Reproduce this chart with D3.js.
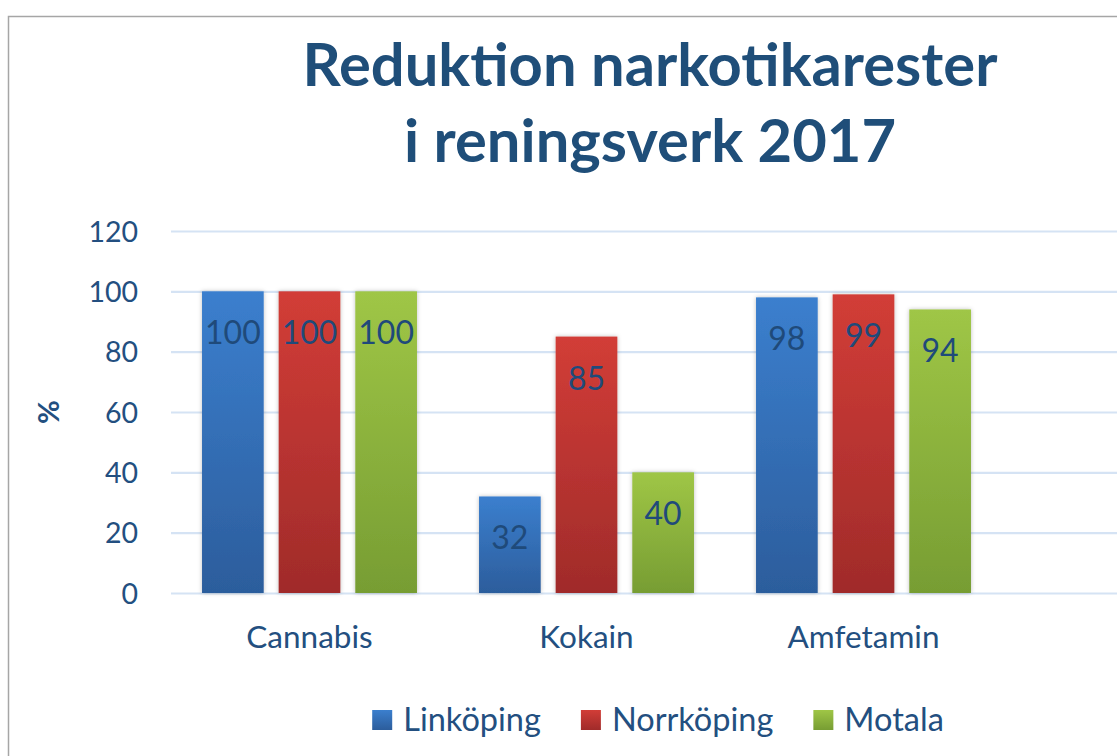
<!DOCTYPE html>
<html>
<head>
<meta charset="utf-8">
<script src="https://cdn.jsdelivr.net/npm/d3@7"></script>
<style>
  html, body { margin: 0; padding: 0; background: #fff; }
  svg { display: block; }
  text { font-family: Lato, "Open Sans", sans-serif; }
</style>
</head>
<body>
<svg id="chart" width="1117" height="756"></svg>
<script>
const titleLines = ["Reduktion narkotikarester", "i reningsverk 2017"];
const categories = ["Cannabis", "Kokain", "Amfetamin"];
const seriesNames = ["Linköping", "Norrköping", "Motala"];
const linkoping = [100, 32, 98];
const norrkoping = [100, 85, 99];
const motala = [100, 40, 94];
const yTicks = [0, 20, 40, 60, 80, 100, 120];
const yLabel = "%";

const seriesValues = [linkoping, norrkoping, motala];
const colors = [
  { top: "#3B7FCE", bottom: "#2C5D9C" },
  { top: "#D23D37", bottom: "#A02B2A" },
  { top: "#9FC646", bottom: "#779D33" }
];
const textColor = "#234F80";

const svg = d3.select("#chart");
const W = 1117, H = 756;

const defs = svg.append("defs");
colors.forEach((c, i) => {
  const g = defs.append("linearGradient").attr("id", "grad" + i)
    .attr("x1", 0).attr("y1", 0).attr("x2", 0).attr("y2", 1);
  g.append("stop").attr("offset", "0%").attr("stop-color", c.top);
  g.append("stop").attr("offset", "100%").attr("stop-color", c.bottom);
});
const f = defs.append("filter").attr("id", "shadow")
  .attr("x", "-20%").attr("y", "-10%").attr("width", "140%").attr("height", "120%");
f.append("feDropShadow").attr("dx", 0).attr("dy", 0).attr("stdDeviation", 2)
  .attr("flood-color", "#000").attr("flood-opacity", 0.25);

// frame
svg.append("path")
  .attr("d", `M8.5,${H} L8.5,16.5 L${W},16.5`)
  .attr("fill", "none").attr("stroke", "#A6A6A6").attr("stroke-width", 1.5);

// scales
const y = d3.scaleLinear().domain([0, 120]).range([593, 231]);
const x0 = d3.scaleBand().domain(categories).range([171, 1002])
  .paddingInner(0.224).paddingOuter(0.112);
const x1 = d3.scaleBand().domain(seriesNames).range([0, x0.bandwidth()])
  .paddingInner(0.195);

// gridlines
const gridAxis = d3.axisLeft(y).tickValues(yTicks).tickSize(-(W - 171)).tickFormat("");
const grid = svg.append("g").attr("transform", "translate(171,0)").call(gridAxis);
grid.select(".domain").remove();
grid.selectAll("line").attr("stroke", "#D5E3F4").attr("stroke-width", 2.2);

// y tick labels
const yAxis = d3.axisLeft(y).tickValues(yTicks).tickSize(0).tickPadding(0);
const ya = svg.append("g").attr("transform", "translate(138,0)").call(yAxis);
ya.select(".domain").remove();
ya.selectAll("text").attr("fill", textColor).attr("font-size", 28.5)
  .style("font-family", "Lato, sans-serif").attr("dy", "0.36em");

// y label
svg.append("text")
  .attr("transform", "translate(59,412) rotate(-90)")
  .attr("text-anchor", "middle")
  .attr("fill", textColor).attr("font-size", 29).attr("font-weight", "bold")
  .text(yLabel);

// x labels
const xAxis = d3.axisBottom(x0).tickSize(0).tickPadding(0);
const xa = svg.append("g").attr("transform", "translate(0,648)").call(xAxis);
xa.select(".domain").remove();
xa.selectAll("text").attr("fill", textColor).attr("font-size", 31.5)
  .style("font-family", "Lato, sans-serif").attr("dy", 0);

// bars
const rows = [];
categories.forEach((c, ci) => {
  seriesNames.forEach((s, si) => {
    rows.push({ cat: c, ser: s, si: si, v: seriesValues[si][ci] });
  });
});
svg.append("g").selectAll("rect").data(rows).join("rect")
  .attr("x", d => x0(d.cat) + x1(d.ser))
  .attr("y", d => y(d.v))
  .attr("width", x1.bandwidth())
  .attr("height", d => y(0) - y(d.v))
  .attr("fill", d => `url(#grad${d.si})`)
  .attr("filter", "url(#shadow)");

// data labels
svg.append("g").selectAll("text").data(rows).join("text")
  .attr("x", d => x0(d.cat) + x1(d.ser) + x1.bandwidth() / 2)
  .attr("y", d => y(d.v) + 53)
  .attr("text-anchor", "middle")
  .attr("fill", "#1F4A7A").attr("font-size", 32)
  .text(d => d.v);

// title
function fitText(sel, target) {
  const w = sel.node().getComputedTextLength();
  const fs = parseFloat(sel.attr("font-size"));
  sel.attr("font-size", fs * target / w);
}
const t1 = svg.append("text").attr("x", 650).attr("y", 86).attr("text-anchor", "middle")
  .attr("fill", "#1F4E79").attr("font-weight", "bold").attr("font-size", 46).text(titleLines[0]);
const t2 = svg.append("text").attr("x", 650).attr("y", 162).attr("text-anchor", "middle")
  .attr("fill", "#1F4E79").attr("font-weight", "bold").attr("font-size", 46).text(titleLines[1]);
fitText(t1, 695);
t2.attr("font-size", t1.attr("font-size"));

// legend
const legend = svg.append("g");
let lx = 0;
seriesNames.forEach((s, i) => {
  const g = legend.append("g");
  g.append("rect").attr("x", lx).attr("y", 710).attr("width", 20).attr("height", 20)
    .attr("fill", `url(#grad${i})`);
  const t = g.append("text").attr("x", lx + 31).attr("y", 731)
    .attr("fill", textColor).attr("font-size", 32.5).text(s);
  lx += 31 + t.node().getComputedTextLength() + 40;
});
const totalW = lx - 40;
legend.attr("transform", `translate(${658 - totalW / 2},0)`);
</script>
</body>
</html>
